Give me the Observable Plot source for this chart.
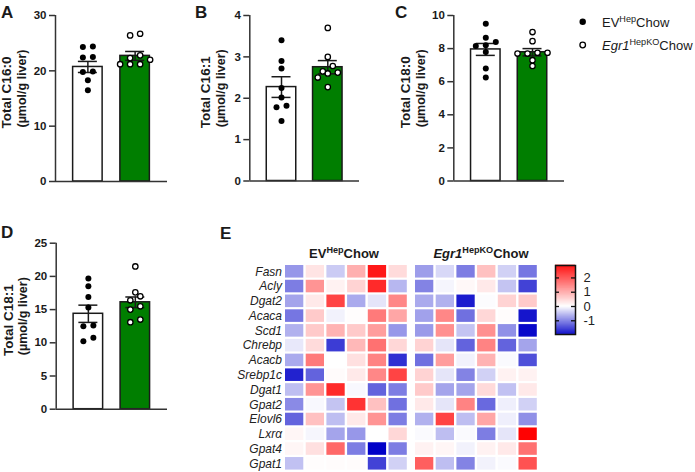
<!DOCTYPE html>
<html>
<head>
<meta charset="utf-8">
<script src="https://cdn.jsdelivr.net/npm/d3@7"></script>
<script src="https://cdn.jsdelivr.net/npm/@observablehq/plot@0.6"></script>
<style>
  body { margin: 0; background: #fff; }
  #fig { position: relative; width: 695px; height: 472px; overflow: hidden; background: #fff; }
  #fig > svg { position: absolute; overflow: visible; }
</style>
</head>
<body>
<div id="fig"></div>
<script>
// ---- Liver fatty acids, individual mice (µmol/g liver) ----
const c160EV = [24.3, 24.4, 22.4, 22.5, 19.8, 19.9, 18.3, 16.5];
const c160KO = [26.4, 26.7, 22.8, 22.3, 21.2, 21.2, 21.2, 22.0];
const c160Mean = [20.7, 22.7];
const c160Sem = [1.0, 0.8];

const c161EV = [3.40, 2.90, 2.72, 2.25, 2.02, 1.82, 1.78, 1.45];
const c161KO = [3.70, 3.00, 2.78, 2.65, 2.62, 2.60, 2.50, 2.27];
const c161Mean = [2.27, 2.75];
const c161Sem = [0.25, 0.16];

const c180EV = [9.5, 8.65, 8.4, 8.2, 8.15, 7.8, 6.8, 6.25];
const c180KO = [9.0, 8.45, 7.75, 7.7, 7.7, 7.75, 7.3, 6.95];
const c180Mean = [7.95, 7.78];
const c180Sem = [0.36, 0.22];

const c181EV = [19.7, 18.5, 16.9, 15.3, 12.5, 12.6, 10.25, 10.75];
const c181KO = [21.5, 17.6, 17.0, 16.4, 15.5, 15.0, 13.1, 13.5];
const c181Mean = [14.37, 16.1];
const c181Sem = [1.3, 0.8];

// ---- Lipogenic gene expression (row z-scores) ----
const genes = ["Fasn", "Acly", "Dgat2", "Acaca", "Scd1", "Chrebp", "Acacb",
               "Srebp1c", "Dgat1", "Gpat2", "Elovl6", "Lxrα", "Gpat4", "Gpat1"];
const zEV = [
  [-0.8, 0.3, -0.4, 0.9, 2.6, 0.4],
  [-1.0, 1.2, 0.15, 0.5, 2.4, -0.55],
  [-0.7, 0.25, 2.1, -0.65, -0.2, 1.35],
  [-1.05, 0.6, -0.1, 0.02, 1.5, 1.0],
  [-0.6, 0.6, 0.85, 0.6, 1.1, -0.8],
  [-0.18, 0.4, -1.5, 0.8, 1.6, 0.45],
  [-0.65, 1.5, 0, 0.35, 1.4, -1.6],
  [-1.7, -1.2, 0.05, 0.25, 1.35, 2.1],
  [-0.5, 1.2, 2.4, -0.05, -1.2, -1.0],
  [-0.9, -0.05, -0.45, 2.3, 0.7, -1.1],
  [-1.2, 0.7, -0.5, 0.25, 1.2, -1.0],
  [0.1, -0.07, -0.7, -0.8, 0, 0.45],
  [0.1, 0.35, 1.7, -1.0, -1.95, -1.0],
  [-0.48, 0.02, 0.03, 0.03, -1.45, -0.35]
];
const zKO = [
  [-0.75, -0.3, -1.0, 0.7, -0.35, -1.05],
  [-0.95, -0.08, 0.08, 0.25, -0.45, -1.45],
  [-0.65, -0.6, -1.75, -0.02, 0.5, 0.6],
  [-0.72, 1.35, -1.1, 0.45, 0.03, -1.8],
  [-0.78, 1.25, -0.45, 1.25, -0.85, -1.9],
  [0.5, -0.2, -1.2, 1.4, -1.2, -0.7],
  [-1.1, 1.1, -0.1, 0.85, -0.04, -1.35],
  [0.5, -0.2, -0.95, -0.35, 0.15, 0.15],
  [0.6, -0.7, -0.7, 0.42, -0.48, 0.25],
  [0.25, -0.2, 1.4, -1.15, -0.12, -0.35],
  [-0.6, 2.1, -0.5, 1.0, -0.12, -0.85],
  [-0.04, -0.5, -0.04, -1.0, -0.2, 2.85],
  [0.15, 0.1, -0.1, 0.15, 0.25, 1.6],
  [1.8, -0.5, -0.95, -0.1, -0.04, 1.95]
];
const colorDomain = [-1.96, 0, 2.87];
const colorRange = ["#0000c8", "#ffffff", "#ff0000"];
const colorTicks = [-1, 0, 1, 2];

// ---- shared styling ----
const FONT = '"Liberation Sans", Arial, Helvetica, sans-serif';
const INK = "#1a1a1a";
const GREEN = "#007e00";
const X_DOMAIN = [-0.685, 1.685];   // two bar slots centred on 0 and 1
const BAR_PX = 29.5, CAP_PX = 19, ROW_PX = 5.5, STEP_PX = 10;

const fig = document.getElementById("fig");
function place(node, left, top) {
  node.style.left = left + "px";
  node.style.top = top + "px";
  fig.appendChild(node);
  return node;
}

// GraphPad-style scatter layout: points close in value share a row and are
// spread symmetrically about the bar centre.
function arrange(values, g, kx, ky) {
  const order = d3.range(values.length).sort((a, b) => values[a] - values[b]);
  const rows = [];
  for (const i of order) {
    const row = rows[rows.length - 1];
    if (row && (values[i] - values[row[0]]) * ky < ROW_PX) row.push(i);
    else rows.push([i]);
  }
  return rows.flatMap(row => row.map((i, k) => ({
    g, v: values[i], x: g + (k - (row.length - 1) / 2) * STEP_PX / kx
  })));
}

function barPanel(o) {
  const fw = o.width - o.ml - o.mr, fh = o.height - o.mt - o.mb;
  const kx = fw / (X_DOMAIN[1] - X_DOMAIN[0]), ky = fh / o.yMax;
  const stats = o.means.map((m, g) => ({g, mean: m, sem: o.sems[g]}));
  const pts = [...arrange(o.ev, 0, kx, ky), ...arrange(o.ko, 1, kx, ky)];
  const hb = BAR_PX / 2 / kx, hc = CAP_PX / 2 / kx;
  const line = {stroke: INK, strokeWidth: 1.5};
  const titleStyle = {frameAnchor: "left", textAnchor: "middle", lineAnchor: "middle", rotate: -90, fontWeight: "bold", fill: INK};
  return Plot.plot({
    width: o.width, height: o.height,
    marginLeft: o.ml, marginRight: o.mr, marginTop: o.mt, marginBottom: o.mb,
    x: {domain: X_DOMAIN, axis: null},
    y: {domain: [0, o.yMax], axis: null},
    style: {fontFamily: FONT, fontSize: "11.5px", fontWeight: "bold", color: INK, background: "transparent", overflow: "visible"},
    marks: [
      Plot.rect(stats.filter(d => d.g === 0), {x1: d => d.g - hb, x2: d => d.g + hb, y1: 0, y2: "mean", fill: "#fff", ...line}),
      Plot.rect(stats.filter(d => d.g === 1), {x1: d => d.g - hb, x2: d => d.g + hb, y1: 0, y2: "mean", fill: GREEN, ...line}),
      Plot.ruleX(stats, {x: "g", y1: d => d.mean - d.sem, y2: d => d.mean + d.sem, ...line}),
      Plot.ruleY(stats, {y: d => d.mean + d.sem, x1: d => d.g - hc, x2: d => d.g + hc, ...line}),
      Plot.ruleY(stats, {y: d => d.mean - d.sem, x1: d => d.g - hc, x2: d => d.g + hc, ...line}),
      Plot.dot(pts.filter(d => d.g === 0), {x: "x", y: "v", r: 3, fill: "#000"}),
      Plot.dot(pts.filter(d => d.g === 1), {x: "x", y: "v", r: 2.7, fill: "#fff", stroke: "#000", strokeWidth: 1.3}),
      Plot.ruleX([X_DOMAIN[0]], {stroke: "#333", strokeWidth: 1.5}),
      Plot.ruleY([0], {stroke: "#333", strokeWidth: 1.5}),
      Plot.axisY({ticks: o.yTicks, tickSize: 6, tickPadding: 3, tickFormat: d => String(d), label: null,
        stroke: "#333", strokeWidth: 1.5, fontSize: 11.5, fontWeight: "bold"}),
      Plot.text([o.title[0]], {...titleStyle, text: d => d, dx: o.titleDx[0], dy: -6, fontSize: 13.5}),
      Plot.text([o.title[1]], {...titleStyle, text: d => d, dx: o.titleDx[1], dy: -10, fontSize: 12.5})
    ]
  });
}

place(barPanel({width: 175, height: 200, ml: 55, mr: 8, mt: 15, mb: 19, yMax: 30, yTicks: [0, 10, 20, 30],
  ev: c160EV, ko: c160KO, means: c160Mean, sems: c160Sem,
  title: ["Total C16:0", "(µmol/g liver)"], titleDx: [-48.5, -33.5]}), 0, 0);
place(barPanel({width: 172, height: 200, ml: 54.3, mr: 8, mt: 15, mb: 19.5, yMax: 4, yTicks: [0, 1, 2, 3, 4],
  ev: c161EV, ko: c161KO, means: c161Mean, sems: c161Sem,
  title: ["Total C16:1", "(µmol/g liver)"], titleDx: [-44.3, -28.5]}), 195, 0);
place(barPanel({width: 177, height: 200, ml: 58.3, mr: 8, mt: 15, mb: 19.5, yMax: 10, yTicks: [0, 2, 4, 6, 8, 10],
  ev: c180EV, ko: c180KO, means: c180Mean, sems: c180Sem,
  title: ["Total C18:0", "(µmol/g liver)"], titleDx: [-48.3, -33.3]}), 395, 0);
place(barPanel({width: 175, height: 200, ml: 55.7, mr: 8, mt: 22.7, mb: 11.3, yMax: 25, yTicks: [0, 5, 10, 15, 20, 25],
  ev: c181EV, ko: c181KO, means: c181Mean, sems: c181Sem,
  title: ["Total C18:1", "(µmol/g liver)"], titleDx: [-48, -33]}), 0, 220);

// ---- heatmap: one block of six mice per genotype ----
const colorScale = {type: "linear", domain: colorDomain, range: colorRange, interpolate: "rgb"};
const BLOCK_W = 121.8, BLOCK_TOP = 265, BLOCK_H = 204.6;
function heatBlock(z, withLabels, left) {
  const cells = genes.flatMap((gene, i) => z[i].map((v, j) => ({mouse: j, gene, v})));
  const ml = withLabels ? 65 : 2;
  return place(Plot.plot({
    width: ml + BLOCK_W + 2, height: BLOCK_H + 12, marginLeft: ml, marginRight: 2, marginTop: 10, marginBottom: 2,
    x: {domain: d3.range(6), paddingInner: 0.116, paddingOuter: 0, round: false, axis: null},
    y: {domain: genes, paddingInner: 0.15, paddingOuter: 0, round: false, axis: null},
    color: colorScale,
    style: {fontFamily: FONT, fontSize: "12px", color: "#222", background: "transparent", overflow: "visible"},
    marks: [
      Plot.cell(cells, {x: "mouse", y: "gene", fill: "v", inset: 0}),
      withLabels ? Plot.axisY({tickSize: 0, tickPadding: 3.5, label: null, fontSize: 12, fontStyle: "italic"}) : null
    ]
  }), left - ml, BLOCK_TOP - 10);
}
heatBlock(zEV, true, 285);
heatBlock(zKO, false, 415.3);

// ---- colour bar ----
const nSteps = 140;
const span = colorDomain[2] - colorDomain[0];
const bands = d3.range(nSteps).map(i => colorDomain[0] + span * i / nSteps);
place(Plot.plot({
  width: 60, height: 80, marginLeft: 5, marginRight: 35, marginTop: 5, marginBottom: 6,
  x: {domain: [0, 1], axis: null},
  y: {domain: [colorDomain[0], colorDomain[2]], axis: null},
  color: colorScale,
  style: {fontFamily: FONT, fontSize: "13px", color: "#222", background: "transparent", overflow: "visible"},
  marks: [
    Plot.rect(bands, {x1: 0, x2: 1, y1: d => d, y2: d => d + span / nSteps * 1.6, fill: d => d + span / nSteps / 2}),
    Plot.frame({stroke: "#111", strokeWidth: 1.5}),
    Plot.ruleY(colorTicks, {x1: 0, x2: 0.2, stroke: "#111", strokeWidth: 1.3}),
    Plot.ruleY(colorTicks, {x1: 0.8, x2: 1, stroke: "#111", strokeWidth: 1.3}),
    Plot.axisY({anchor: "right", ticks: colorTicks, tickSize: 0, tickPadding: 8, tickFormat: d => String(d), label: null, fontSize: 13})
  ]
}), 550, 260);

// ---- panel letters, legend and heatmap headings ----
const over = d3.create("svg")
  .attr("width", 695).attr("height", 472)
  .style("font-family", FONT).style("pointer-events", "none");
const letters = [["A", 1, 17.5], ["B", 195, 17.5], ["C", 395, 17.5], ["D", 1, 238], ["E", 220, 239]];
for (const [t, x, y] of letters) {
  over.append("text").attr("x", x).attr("y", y).attr("font-size", 17).attr("font-weight", "bold").attr("fill", INK).text(t);
}
function labelled(sel, parts) {
  for (const [txt, kind] of parts) {
    const ts = sel.append("tspan").text(txt);
    if (kind === "sup") ts.attr("font-size", "0.7em").attr("baseline-shift", "super");
    if (kind === "it") ts.attr("font-style", "italic");
  }
  return sel;
}
// legend
over.append("circle").attr("cx", 582.7).attr("cy", 21.7).attr("r", 3.2).attr("fill", "#000");
over.append("circle").attr("cx", 582.7).attr("cy", 45).attr("r", 2.8).attr("fill", "#fff").attr("stroke", "#000").attr("stroke-width", 1.3);
labelled(over.append("text").attr("x", 602).attr("y", 26.5).attr("font-size", 13).attr("fill", INK),
  [["EV"], ["Hep", "sup"], ["Chow"]]);
labelled(over.append("text").attr("x", 602).attr("y", 50).attr("font-size", 13).attr("fill", INK),
  [["Egr1", "it"], ["HepKO", "sup"], ["Chow"]]);
// heatmap group headings
labelled(over.append("text").attr("x", 344).attr("y", 258).attr("text-anchor", "middle").attr("font-size", 13).attr("font-weight", "bold").attr("fill", INK),
  [["EV"], ["Hep", "sup"], ["Chow"]]);
labelled(over.append("text").attr("x", 481).attr("y", 258).attr("text-anchor", "middle").attr("font-size", 13).attr("font-weight", "bold").attr("fill", INK),
  [["Egr1", "it"], ["HepKO", "sup"], ["Chow"]]);
fig.appendChild(over.node());
over.node().style.left = "0px";
over.node().style.top = "0px";
</script>
</body>
</html>
